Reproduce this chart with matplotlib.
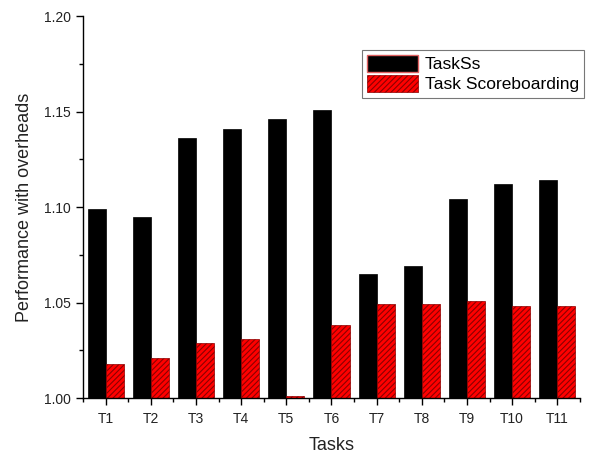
import matplotlib
matplotlib.use("Agg")
import matplotlib.pyplot as plt
import numpy as np
from matplotlib.ticker import MultipleLocator, FixedLocator
from matplotlib.patches import Patch

plt.rcParams['font.family'] = ['Liberation Sans', 'DejaVu Sans']
plt.rcParams['hatch.linewidth'] = 0.8

tasks = ["T1", "T2", "T3", "T4", "T5", "T6", "T7", "T8", "T9", "T10", "T11"]
taskss = [1.099, 1.095, 1.136, 1.141, 1.146, 1.151, 1.065, 1.069, 1.104, 1.112, 1.114]
scoreboarding = [1.018, 1.021, 1.029, 1.031, 1.001, 1.038, 1.049, 1.049, 1.051, 1.048, 1.048]

fig = plt.figure(figsize=(6.06, 4.58), dpi=100)
ax = fig.add_axes([0.137, 0.131, 0.820, 0.834])

x = np.arange(1, len(tasks) + 1)
w = 0.4
base = 1.0
ax.bar(x - w / 2, np.array(taskss) - base, w, bottom=base, color='black', edgecolor='black', linewidth=0.5)
ax.bar(x + w / 2, np.array(scoreboarding) - base, w, bottom=base, color='#ff0000',
       edgecolor='#8b0000', hatch='//////', linewidth=0.5)

ax.set_xlim(0.5, 11.5)
ax.set_ylim(1.0, 1.2)
ax.set_xticks(x)
ax.set_xticklabels(tasks)
ax.xaxis.set_minor_locator(FixedLocator(np.arange(0.5, 12, 1.0)))
ax.yaxis.set_major_locator(MultipleLocator(0.05))
ax.yaxis.set_minor_locator(MultipleLocator(0.025))
ax.yaxis.set_major_formatter(matplotlib.ticker.FormatStrFormatter('%.2f'))

for s in ['top', 'right']:
    ax.spines[s].set_visible(False)
ax.spines['left'].set_linewidth(1.0)
ax.spines['bottom'].set_linewidth(1.0)
ax.tick_params(axis='both', which='major', direction='out', length=5, width=1, labelsize=10, labelcolor='#222222')
ax.tick_params(axis='x', which='major', pad=5)
ax.tick_params(axis='both', which='minor', direction='out', length=3, width=1)

ax.set_xlabel('Tasks', fontsize=13, color='#222222', labelpad=8)
ax.set_ylabel('Performance with overheads', fontsize=13, color='#222222', labelpad=8)

handles = [Patch(facecolor='black', edgecolor='#e06060', linewidth=1.0, label='TaskSs'),
           Patch(facecolor='#ff0000', edgecolor='#8b0000', hatch='//////', linewidth=0.5, label='Task Scoreboarding')]
leg = ax.legend(handles=handles, loc='upper right', bbox_to_anchor=(1.008, 0.911), fontsize=12.5,
                frameon=True, fancybox=False, edgecolor='#555555', handlelength=2.9, handleheight=1.1,
                borderpad=0.3, labelspacing=0.15, handletextpad=0.4, borderaxespad=0)
leg.get_frame().set_linewidth(0.8)

fig.savefig('out.png', dpi=100)
